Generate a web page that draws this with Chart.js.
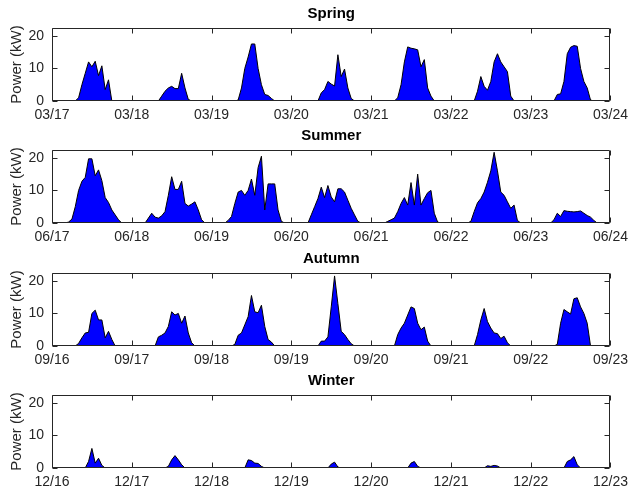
<!DOCTYPE html>
<html>
<head>
<meta charset="utf-8">
<title>Power by season</title>
<script src="https://cdn.jsdelivr.net/npm/chart.js@4.4.1/dist/chart.umd.min.js"></script>
<style>
  body { margin: 0; background: #fff; }
  #wrap { position: relative; width: 634px; height: 495px; }
  .panel { position: absolute; left: 0; width: 634px; height: 122px; }
</style>
</head>
<body>
<div id="wrap">
  <div class="panel" style="top:0px"><canvas id="c0" width="634" height="122"></canvas></div>
  <div class="panel" style="top:122px"><canvas id="c1" width="634" height="122"></canvas></div>
  <div class="panel" style="top:245px"><canvas id="c2" width="634" height="122"></canvas></div>
  <div class="panel" style="top:367px"><canvas id="c3" width="634" height="122"></canvas></div>
</div>
<script>
// ---------- data: hourly power (kW), one row per day, hours 0..23 ----------
const springPower = [
  [0,0,0,0,0,0,0,0, 1,5,8.5,12,10.5,12.2,7.8,10.8,3.5,6.5, 0,0,0,0,0,0],
  [0,0,0,0,0,0,0,0,0, 1.5,3,4,4.5,3.8,3.8,8.5,4,0.5, 0,0,0,0,0,0],
  [0,0,0,0,0,0,0,0, 0.3,4,10,13.5,17.5,17.5,10,5,2,1.7,0.8, 0,0,0,0,0],
  [0,0,0,0,0,0,0,0,0, 2.5,3.5,6,5.2,4.6,14.2,7.5,9.8,4,0.8, 0,0,0,0,0],
  [0,0,0,0,0,0,0,0, 1,5,12,16.6,16.2,16,15.7,10.5,12.7,4,1.5, 0,0,0,0,0],
  [0,0,0,0,0,0,0,0, 3,7.5,4.5,3.3,6,12,14.5,12,10.5,9,1.5, 0,0,0,0,0],
  [0,0,0,0,0,0,0,0, 2,2.2,6,14.5,16.5,17,16.8,10,6,4,0.3, 0,0,0,0,0]
];
const summerPower = [
  [0,0,0,0,0, 0.3,1.2,5,10,12.8,14,19.7,19.7,14.5,16.3,13,7.8,6.3,4,2.5,1, 0,0,0],
  [0,0,0,0,0, 1.5,3,1.8,1.5,2.2,3.5,8.5,14.2,10.3,10.3,12.8,6,5.2,5.8,6.5,4,1, 0,0],
  [0,0,0,0,0, 0.8,2,6,9.5,10,8.5,10,13.5,8.5,17,20.5,4,12,12,12,4,0.5, 0,0],
  [0,0,0,0,0,0, 2.5,5,7.5,11,7.8,11.5,8,6.5,10.5,10.5,9.5,7,4.5,2.5,0.5, 0,0,0],
  [0,0,0,0,0, 0.5,1,1.5,3.5,6,7.8,5.5,12.4,5.5,15,5.5,7.5,9.3,10,3,0.3, 0,0,0],
  [0,0,0,0,0,0, 0.5,3.5,6.2,7.5,9.5,12.5,16,21.7,16,9.5,8.5,6.5,4.5,5.5,0.8, 0,0,0],
  [0,0,0,0,0,0,0, 1,3,2,3.8,3.6,3.5,3.4,3.5,3.7,3,2.3,1.8,0.8, 0,0,0,0]
];
const autumnPower = [
  [0,0,0,0,0,0,0,0, 0.8,2.5,4,4.2,10,11,8,8,2.5,4.5,2, 0,0,0,0,0],
  [0,0,0,0,0,0,0,0, 2.8,3.3,4,6,10.5,9.5,10,7,9.2,4,1, 0,0,0,0,0],
  [0,0,0,0,0,0,0, 0.5,3.3,4,6.5,9,15.5,10.5,10.2,12.5,6,2,1.2, 0,0,0,0,0],
  [0,0,0,0,0,0,0,0,0, 1.5,1.5,2.8,12,21.5,13,4.5,3.5,2,0.7, 0,0,0,0,0],
  [0,0,0,0,0,0,0,0, 3.5,5.5,7,9.5,12,11.5,7,5,5.8,1.5, 0,0,0,0,0,0],
  [0,0,0,0,0,0,0,0, 3.5,8,11.5,7.5,5.5,4,3.8,2.3,3,1, 0,0,0,0,0,0],
  [0,0,0,0,0,0,0,0, 0.5,7,11.2,10.5,9.8,14.5,14.8,12,10,7, 0,0,0,0,0,0]
];
const winterPower = [
  [0,0,0,0,0,0,0,0,0,0,0, 2,6,1.5,3,0.8, 0,0,0,0,0,0,0,0],
  [0,0,0,0,0,0,0,0,0,0,0, 0.5,2.5,3.8,2.5,1, 0,0,0,0,0,0,0,0],
  [0,0,0,0,0,0,0,0,0,0,0, 2.5,2.3,1.5,1.4,0.5, 0,0,0,0,0,0,0,0],
  [0,0,0,0,0,0,0,0,0,0,0,0, 1.2,1.8,0.3, 0,0,0,0,0,0,0,0,0],
  [0,0,0,0,0,0,0,0,0,0,0,0, 1.5,2,0.5, 0,0,0,0,0,0,0,0,0],
  [0,0,0,0,0,0,0,0,0,0,0, 0.7,0.5,0.8,0.6, 0,0,0,0,0,0,0,0,0],
  [0,0,0,0,0,0,0,0,0,0,0, 2,2.5,3.5,1, 0,0,0,0,0,0,0,0,0]
];

const seasonTitles = ['Spring', 'Summer', 'Autumn', 'Winter'];
const dayLabels = [
  ['03/17','03/18','03/19','03/20','03/21','03/22','03/23','03/24'],
  ['06/17','06/18','06/19','06/20','06/21','06/22','06/23','06/24'],
  ['09/16','09/17','09/18','09/19','09/20','09/21','09/22','09/23'],
  ['12/16','12/17','12/18','12/19','12/20','12/21','12/22','12/23']
];
const dayTicks = [0, 24, 48, 72, 96, 120, 144, 168];   // hours
const powerTicks = [0, 10, 20];
const powerMax = 22.4;

const seasons = [springPower, summerPower, autumnPower, winterPower];

// ---------- helpers ----------
const AXIS = '#262626';
const FONT = '"Liberation Sans", Arial, Helvetica, sans-serif';

function toPoints(days) {
  const pts = [];
  days.forEach((row, d) => row.forEach((v, h) => pts.push({ x: d * 24 + h, y: v })));
  pts.push({ x: days.length * 24, y: 0 });
  return pts;
}

// box around the plot with inward ticks on all four sides
const boxPlugin = {
  id: 'matBox',
  afterDraw(chart) {
    const { ctx, chartArea: a, scales: { x, y } } = chart;
    const L = Math.round(a.left) + 0.5, R = Math.round(a.right) - 0.5;
    const T = Math.round(a.top) + 0.5, B = Math.round(a.bottom) - 0.5;
    const len = 5;
    ctx.save();
    ctx.strokeStyle = AXIS;
    ctx.lineWidth = 1;
    ctx.beginPath();
    ctx.rect(L, T, R - L, B - T);
    dayTicks.forEach(t => {
      const px = Math.round(x.getPixelForValue(t)) + 0.5;
      ctx.moveTo(px, B); ctx.lineTo(px, B - len);
      ctx.moveTo(px, T); ctx.lineTo(px, T + len);
    });
    powerTicks.forEach(t => {
      const py = Math.round(y.getPixelForValue(t)) + 0.5;
      ctx.moveTo(L, py); ctx.lineTo(L + len, py);
      ctx.moveTo(R, py); ctx.lineTo(R - len, py);
    });
    ctx.stroke();
    ctx.restore();
  }
};

seasons.forEach((days, i) => {
  const labels = dayLabels[i];
  new Chart(document.getElementById('c' + i), {
    type: 'line',
    data: {
      datasets: [{
        data: toPoints(days),
        borderColor: '#000000',
        borderWidth: 1,
        backgroundColor: '#0000ff',
        fill: 'origin',
        pointRadius: 0,
        tension: 0
      }]
    },
    options: {
      responsive: false,
      animation: false,
      devicePixelRatio: 1,
      layout: { padding: { left: 0, right: 20, top: 0, bottom: 0 } },
      plugins: {
        legend: { display: false },
        tooltip: { enabled: false },
        title: {
          display: true,
          text: seasonTitles[i],
          fullSize: false,
          color: '#000000',
          font: { family: FONT, size: 15, weight: 'bold', lineHeight: 1.2 },
          padding: { top: 5, bottom: 5 }
        }
      },
      scales: {
        x: {
          type: 'linear',
          min: 0,
          max: 168,
          grid: { display: false, drawTicks: false },
          border: { display: false },
          afterBuildTicks: s => { s.ticks = dayTicks.map(v => ({ value: v })); },
          afterFit: s => { s.height = 21; },
          ticks: {
            autoSkip: false,
            maxRotation: 0,
            padding: 6,
            color: AXIS,
            font: { family: FONT, size: 14 },
            callback: v => labels[dayTicks.indexOf(v)]
          }
        },
        y: {
          min: 0,
          max: powerMax,
          grid: { display: false, drawTicks: false },
          border: { display: false },
          afterBuildTicks: s => { s.ticks = powerTicks.map(v => ({ value: v })); },
          afterFit: s => { s.width = 52; },
          ticks: {
            padding: 8,
            color: AXIS,
            font: { family: FONT, size: 14 }
          },
          title: {
            display: true,
            text: 'Power (kW)',
            color: AXIS,
            font: { family: FONT, size: 15 },
            padding: { top: 8, bottom: 0 }
          }
        }
      }
    },
    plugins: [boxPlugin]
  });
});
</script>
</body>
</html>
